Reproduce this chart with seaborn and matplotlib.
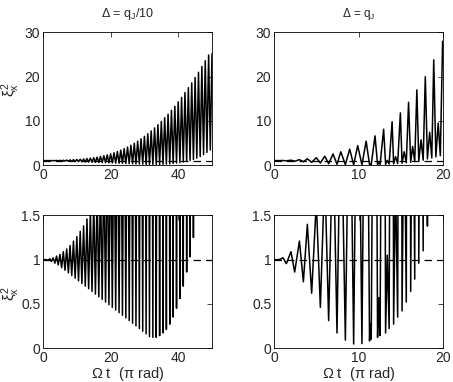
import numpy as np
import pandas as pd
import matplotlib
matplotlib.use("Agg")
import matplotlib.pyplot as plt
import seaborn as sns

# ----------------- values -----------------
# left column (Delta = q_J/10): peaks at t = n, troughs at t = n + 0.5
LEFT_PEAKS = [1.00, 1.00, 1.01, 1.02, 1.04, 1.06, 1.09, 1.12, 1.16, 1.21,
              1.26, 1.32, 1.38, 1.46, 1.55, 1.66, 1.78, 1.93, 2.10, 2.30,
              2.52, 2.77, 3.05, 3.36, 3.70, 4.07, 4.48, 4.92, 5.40, 5.92,
              6.48, 7.08, 7.72, 8.40, 9.12, 9.88, 10.7, 11.5, 12.4, 13.3,
              14.3, 15.3, 16.4, 17.5, 18.6, 19.8, 21.0, 22.3, 23.6, 24.9]
LEFT_TROUGHS = [1.00, 0.99, 0.98, 0.96, 0.94, 0.91, 0.88, 0.85, 0.82, 0.79,
                0.76, 0.73, 0.70, 0.67, 0.64, 0.61, 0.58, 0.55, 0.52, 0.49,
                0.46, 0.43, 0.40, 0.37, 0.34, 0.31, 0.28, 0.25, 0.22, 0.19,
                0.16, 0.13, 0.12, 0.12, 0.14, 0.17, 0.21, 0.27, 0.35, 0.45,
                0.56, 0.70, 0.86, 1.03, 1.25, 1.55, 1.90, 2.35, 2.85, 3.40]
LEFT_END = (50.0, 25.2)

# right column (Delta = q_J): extrema as (t, value) read in order
RIGHT_T = [0.0, 0.6, 1.06, 1.46, 2.0, 2.44, 3.0, 3.47, 3.94, 4.45,
           5.0, 5.48, 6.0, 6.46, 6.98, 7.45, 7.9, 8.44, 8.95, 9.42,
           9.9, 10.4, 10.9, 11.3, 11.4, 11.5, 11.95, 12.25, 12.4, 12.55,
           12.97, 13.2, 13.4, 13.62, 13.97, 14.15, 14.38, 14.63, 14.95, 15.15,
           15.4, 15.65, 15.92, 16.17, 16.4, 16.65, 16.9, 17.13, 17.4, 17.65,
           17.9, 18.15, 18.42, 18.67, 18.9, 19.15, 19.43, 19.68, 19.95, 20.0]
RIGHT_XI = [1.0, 1.0, 1.02, 0.955, 1.09, 0.86, 1.21, 0.75, 1.40, 0.62,
            1.65, 0.46, 2.0, 0.31, 2.5, 0.17, 3.0, 0.09, 3.6, 0.045,
            4.4, 0.05, 5.4, 0.08, 0.27, 0.10, 6.6, 0.12, 0.57, 0.14,
            8.1, 0.17, 1.05, 0.22, 9.8, 0.27, 1.9, 0.35, 11.8, 0.42,
            3.0, 0.52, 14.2, 0.64, 4.2, 0.78, 17.0, 0.96, 5.7, 1.10,
            20.0, 1.38, 7.4, 1.6, 23.8, 1.85, 9.5, 2.1, 28.0, 27.5]

TITLES = ["$\\Delta$ = q$_\\mathrm{J}$/10", "$\\Delta$ = q$_\\mathrm{J}$"]
TITLE_SIZE = [9, 8.5]
XMAX = [50, 20]
XTICKS = [[0, 20, 40], [0, 10, 20]]
YTOP_TICKS = [0, 10, 20, 30]
YBOT_TICKS = [0, 0.5, 1, 1.5]
YBOT_LABELS = ["0", "0.5", "1", "1.5"]
YLABEL = "$\\xi_\\mathrm{x}^2$"
XLABEL = "$\\Omega$ t  ($\\pi$ rad)"
# ------------------------------------------------------------------

sns.set_style("white")
plt.rcParams["font.family"] = ["Liberation Sans", "DejaVu Sans"]
plt.rcParams["mathtext.fontset"] = "custom"
plt.rcParams["mathtext.rm"] = "Liberation Sans"
plt.rcParams["mathtext.it"] = "Liberation Sans"
plt.rcParams["mathtext.bf"] = "Liberation Sans:bold"

# build the left curve from the peak / trough lists
left_t, left_v = [], []
for n, (p, q) in enumerate(zip(LEFT_PEAKS, LEFT_TROUGHS)):
    left_t += [n, n + 0.5]
    left_v += [p, q]
left_t.append(LEFT_END[0])
left_v.append(LEFT_END[1])

curves = [pd.DataFrame({"t": left_t, "xi": left_v}),
          pd.DataFrame({"t": RIGHT_T, "xi": RIGHT_XI})]

fig = plt.figure(figsize=(4.53, 3.82), dpi=100)
col_x = [0.095, 0.605]
row_y = [0.568, 0.089]
w, h = 0.373, 0.347
label_y = [0.57, 0.41]

for c in range(2):
    for r in range(2):
        ax = fig.add_axes([col_x[c], row_y[r], w, h])
        df = curves[c]
        sns.lineplot(data=df, x="t", y="xi", ax=ax, color="black",
                     linewidth=1.1, sort=False, estimator=None)
        ax.plot([0, XMAX[c]], [1, 1], color="black", linewidth=0.9,
                linestyle=(0, (6, 4)))
        ax.set_xlim(0, XMAX[c])
        ax.set_xticks(XTICKS[c])
        if r == 0:
            ax.set_ylim(0, 30)
            ax.set_yticks(YTOP_TICKS)
            ax.set_title(TITLES[c], fontsize=TITLE_SIZE[c], pad=11)
            ax.set_xlabel("")
        else:
            ax.set_ylim(0, 1.5)
            ax.set_yticks(YBOT_TICKS)
            ax.set_yticklabels(YBOT_LABELS)
            ax.set_xlabel(XLABEL, fontsize=10.5, labelpad=0)
        if c == 0:
            ax.set_ylabel(YLABEL, fontsize=11, va="center")
            ax.yaxis.set_label_coords(-0.19, label_y[r])
        else:
            ax.set_ylabel("")
        ax.tick_params(direction="in", length=3.5, width=0.6, top=True,
                       right=True, labelsize=10, pad=2)
        for s in ax.spines.values():
            s.set_linewidth(0.6)
            s.set_color("black")

fig.savefig("out.png", dpi=100)
